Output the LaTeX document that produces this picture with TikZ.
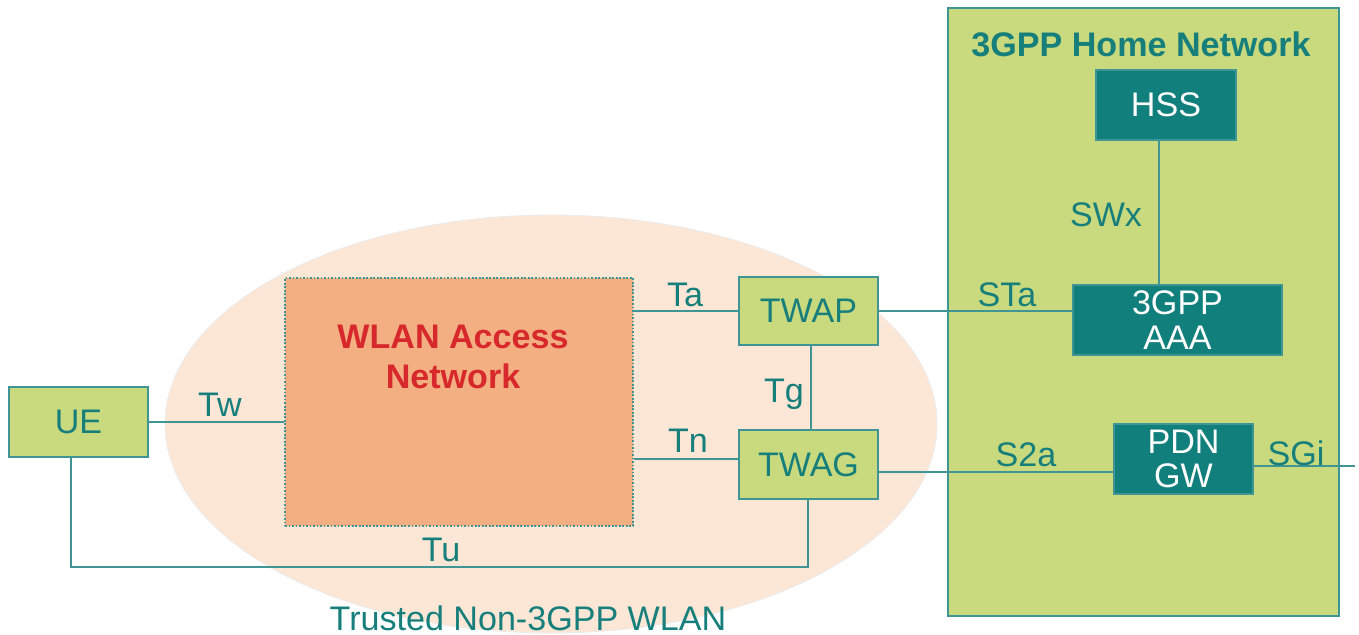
\documentclass[tikz,border=0pt]{standalone}
\usepackage{fontspec}
\setmainfont{Liberation Sans}
\definecolor{tealtxt}{HTML}{177F7B}
\definecolor{tealbox}{HTML}{117F7C}
\definecolor{tealline}{HTML}{3E9594}
\definecolor{greenfill}{HTML}{C9D97E}
\definecolor{peach}{HTML}{FCE6D6}
\definecolor{wlanfill}{HTML}{F3AF82}
\definecolor{wlanred}{HTML}{D7282C}
\begin{document}
\begin{tikzpicture}[x=0.02cm,y=-0.02cm,
  txt/.style={font=\fontsize{19.4pt}{21pt}\selectfont},
  gbox/.style={draw=tealline,line width=1.1pt,fill=greenfill,text=tealtxt,txt,inner sep=0pt},
  dbox/.style={draw=tealline,line width=0.6pt,fill=tealbox,text=white,inner sep=0pt,align=center,font=\fontsize{19.4pt}{19.5pt}\selectfont},
  conn/.style={draw=tealline,line width=1.1pt},
  lbl/.style={text=tealtxt,txt,inner sep=0pt}]
\useasboundingbox (0,0) rectangle (1359,635);
% ellipse
\fill[peach,draw=gray!15,line width=0.5pt] (551,424) ellipse [x radius=386, y radius=209];
% home network
\node[draw=tealline,line width=1.1pt,fill=greenfill,minimum width=391*0.02cm,minimum height=608*0.02cm,inner sep=0pt] (home) at (1143.5,312) {};
\node[lbl,font=\bfseries\fontsize{19.4pt}{21pt}\selectfont] (homet) at (1141,44) {3GPP Home Network};
% WLAN
\node[draw=tealline,line width=1pt,densely dotted,fill=wlanfill,minimum width=348*0.02cm,minimum height=248*0.02cm,inner sep=0pt] (wlan) at (459,402) {};
\node[text=wlanred,font=\bfseries\fontsize{19.4pt}{23pt}\selectfont,align=center] (wlant) at (453,357) {WLAN Access\\Network};
% boxes
\node[gbox,minimum width=139*0.02cm,minimum height=70*0.02cm] (ue) at (78.5,422) {UE};
\node[gbox,minimum width=139*0.02cm,minimum height=68*0.02cm] (twap) at (808.5,311) {TWAP};
\node[gbox,minimum width=139*0.02cm,minimum height=69*0.02cm] (twag) at (808.5,464.5) {TWAG};
\node[dbox,minimum width=140*0.02cm,minimum height=70*0.02cm] (hss) at (1166,105) {HSS};
\node[dbox,minimum width=209*0.02cm,minimum height=70*0.02cm] (aaa) at (1177.5,320) {3GPP\\AAA};
\node[dbox,minimum width=139*0.02cm,minimum height=70*0.02cm] (pdn) at (1183.5,459) {PDN\\GW};
\coordinate (sgiend) at (1355,466);
% connectors
\draw[conn] (ue.east) -- (wlan.west |- ue.east);
\draw[conn] (wlan.east |- twap.west) -- (twap.west);
\draw[conn] (wlan.east |- 0,459) -- (twag.west |- 0,459);
\draw[conn] (twap.south -| 811,0) -- (twag.north -| 811,0);
\draw[conn] (twap.east) -- (aaa.west |- twap.east);
\draw[conn] (twag.east |- 0,472) -- (pdn.west |- 0,472);
\draw[conn] (hss.south -| 1159,0) -- (aaa.north -| 1159,0);
\draw[conn] (pdn.east |- sgiend) -- (sgiend);
\draw[conn] (ue.south -| 71,0) -- (71,567) -- (808,567) -- (twag.south -| 808,0);
% labels
\node[lbl] (tw) at (220,405) {Tw};
\node[lbl] (ta) at (685,295) {Ta};
\node[lbl] (tn) at (688,441) {Tn};
\node[lbl] (tg) at (784,394) {Tg};
\node[lbl] (tu) at (441,550) {Tu};
\node[lbl] (sta) at (1007,295) {STa};
\node[lbl] (s2a) at (1026,455) {S2a};
\node[lbl] (swx) at (1106,215) {SWx};
\node[lbl] (sgi) at (1296,453) {SGi};
\node[lbl] (trust) at (528,618) {Trusted Non-3GPP WLAN};
\end{tikzpicture}
\end{document}
